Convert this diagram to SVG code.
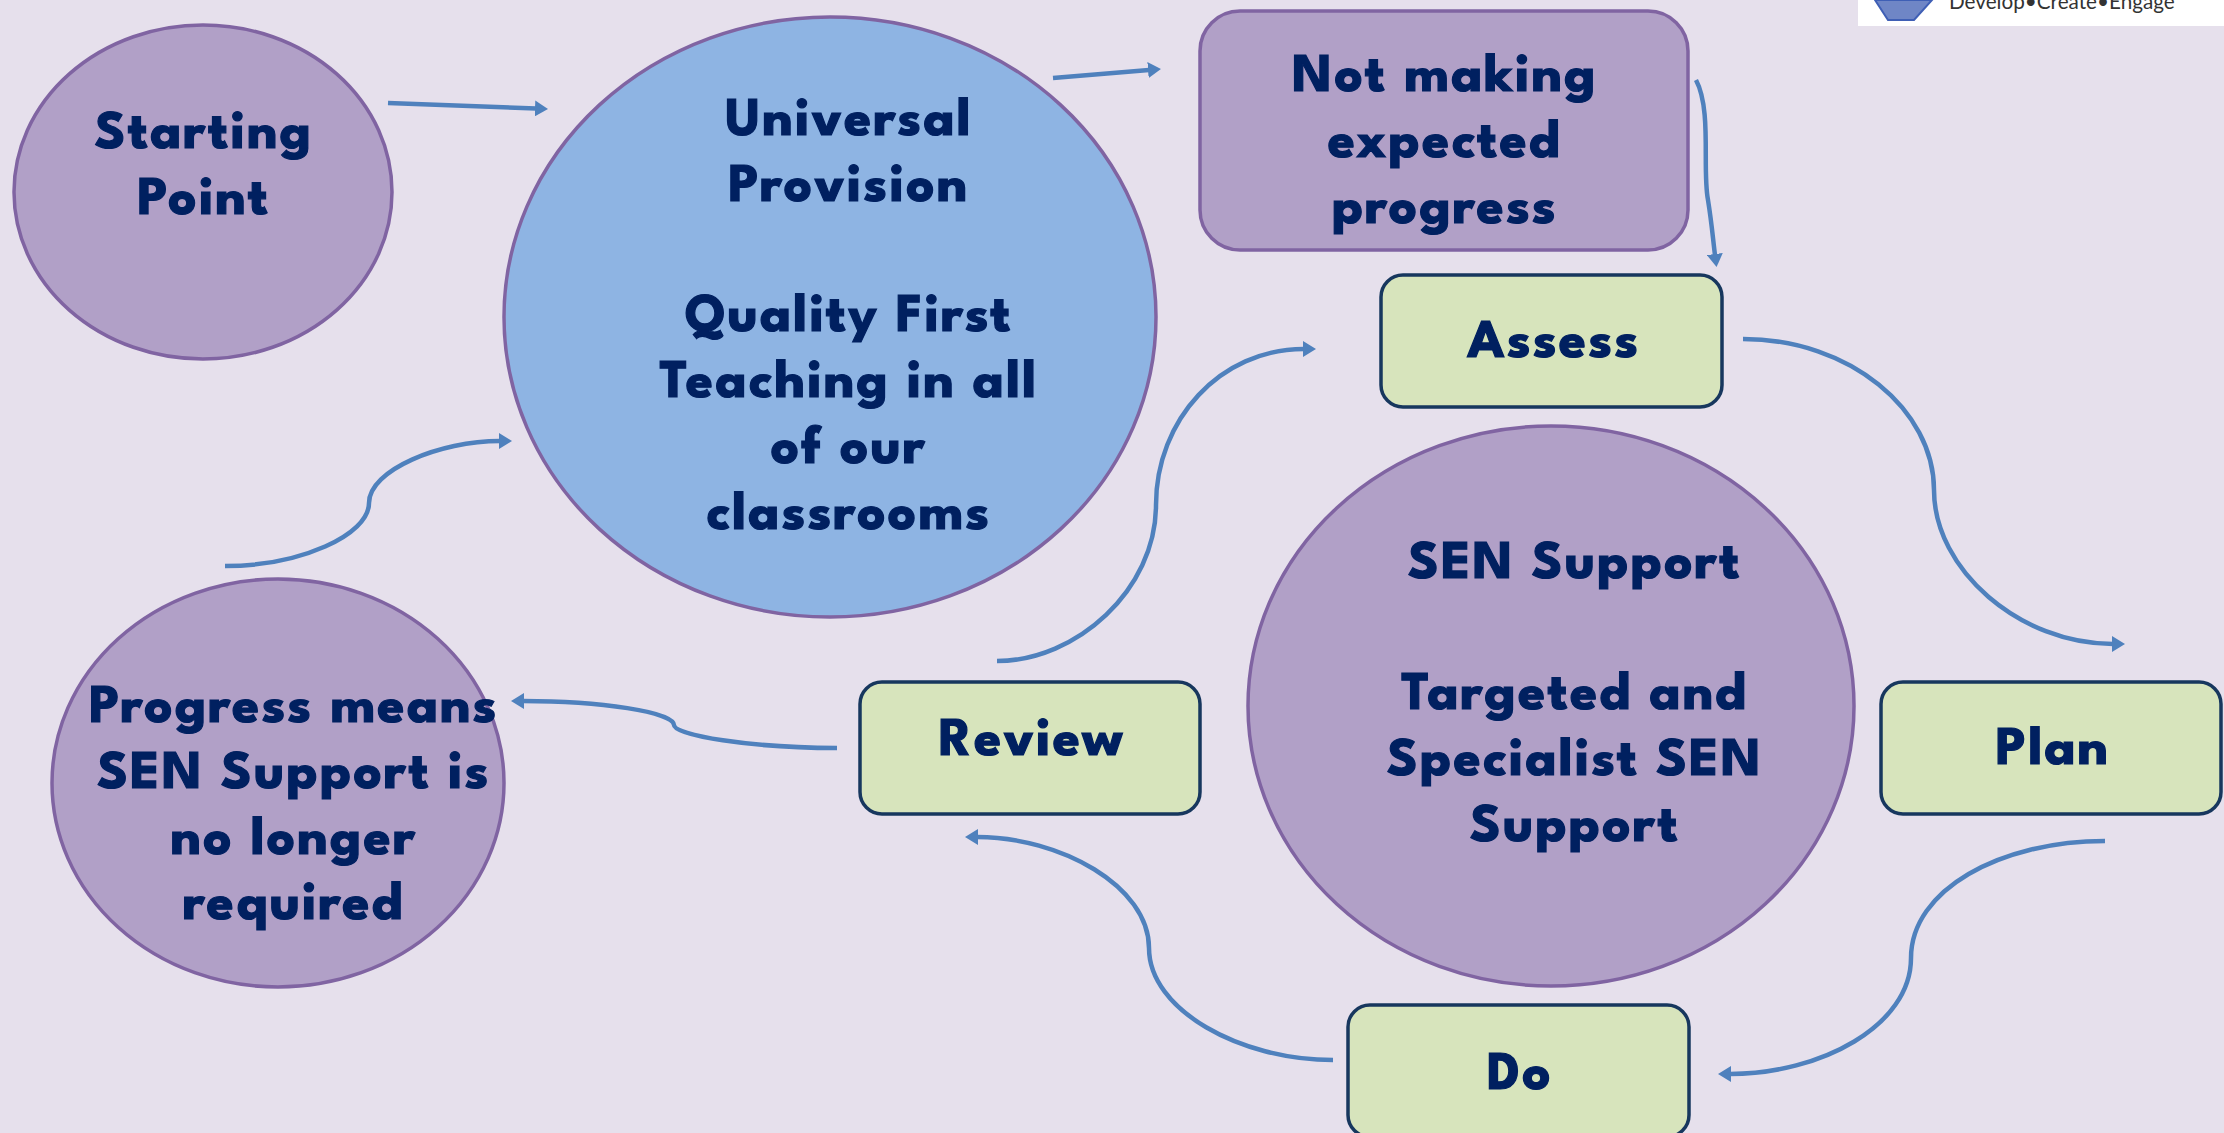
<svg xmlns="http://www.w3.org/2000/svg" width="2224" height="1133" viewBox="0 0 2224 1133">
<style>
.p{fill:#B1A0C7;stroke:#8064A2;stroke-width:3.500}
.b{fill:#8EB4E3;stroke:#8064A2;stroke-width:3.500}
.g{fill:#D7E4BC;stroke:#17375E;stroke-width:3.500}
.t{font-family:"League Spartan","Lato","Liberation Sans",sans-serif;font-weight:700;font-size:55px;letter-spacing:2.3px;fill:#002060;stroke:#002060;stroke-width:1.200;text-anchor:middle}
.c{fill:none;stroke:#4F81BD;stroke-width:4.500}
</style>
<defs><marker id="a" markerUnits="userSpaceOnUse" markerWidth="13" markerHeight="16" refX="1" refY="8" orient="auto"><path d="M0 0L13 8L0 16Z" fill="#4F81BD"/></marker></defs>
<rect width="2224" height="1133" fill="#E6E0EC"/>
<g id="logo"><rect x="1858" y="0" width="366" height="26" fill="#fff"/><path d="M1875 0L1888 20H1914L1932 0Z" fill="#6F86C6" stroke="#3F5FB5" stroke-width="2"/><text x="1949" y="9" font-family="Lato,'Liberation Sans',sans-serif" font-size="20.700" fill="#333">Develop•Create•Engage</text></g>
<g id="connectors">
<path class="c" marker-end="url(#a)" d="M388 103L536 108.500"/>
<path class="c" marker-end="url(#a)" d="M1053 78L1149 70"/>
<path class="c" marker-end="url(#a)" d="M1696 80C1712 110 1702 170 1708 200C1712 225 1713 240 1715 255"/>
<path class="c" marker-end="url(#a)" d="M1743 339C1850 339 1934 410 1934 490C1934 570 2020 644 2113 644"/>
<path class="c" marker-end="url(#a)" d="M2105 841C2000 841 1911 890 1911 958C1911 1026 1820 1074 1730 1074"/>
<path class="c" marker-end="url(#a)" d="M1333 1060C1240 1060 1149 1010 1149 948C1149 886 1060 837 977 837"/>
<path class="c" marker-end="url(#a)" d="M997 661C1076 661 1156 590 1156 505C1156 420 1220 349 1304 349"/>
<path class="c" marker-end="url(#a)" d="M837 748C750 748 674 735 674 725C674 712 600 701 523 701"/>
<path class="c" marker-end="url(#a)" d="M225 566C300 566 369 535 369 503C369 470 440 441 500 441"/>
</g>
<g id="starting"><ellipse class="p" cx="203" cy="192" rx="189" ry="167"/><text class="t"><tspan x="204" y="148">Starting</tspan><tspan x="204" y="214">Point</tspan></text></g>
<g id="universal"><ellipse class="b" cx="830" cy="317" rx="326" ry="300"/><text class="t"><tspan x="849" y="135">Universal</tspan><tspan x="849" y="201">Provision</tspan><tspan x="849" y="331">Quality First</tspan><tspan x="849" y="397">Teaching in all</tspan><tspan x="849" y="463">of our</tspan><tspan x="849" y="529">classrooms</tspan></text></g>
<g id="notmaking"><rect class="p" x="1200" y="11" width="488" height="239" rx="40"/><text class="t"><tspan x="1445" y="91">Not making</tspan><tspan x="1445" y="157">expected</tspan><tspan x="1445" y="223">progress</tspan></text></g>
<g id="assess"><rect class="g" x="1381" y="275" width="341" height="132" rx="22"/><text class="t" x="1554" y="357">Assess</text></g>
<g id="sen"><ellipse class="p" cx="1551" cy="706" rx="303" ry="280"/><text class="t"><tspan x="1575" y="578">SEN Support</tspan><tspan x="1575" y="709">Targeted and</tspan><tspan x="1575" y="775">Specialist SEN</tspan><tspan x="1575" y="841">Support</tspan></text></g>
<g id="plan"><rect class="g" x="1881" y="682" width="340" height="132" rx="22"/><text class="t" x="2053" y="764">Plan</text></g>
<g id="do"><rect class="g" x="1348" y="1005" width="341" height="132" rx="22"/><text class="t" x="1520" y="1089">Do</text></g>
<g id="review"><rect class="g" x="860" y="682" width="340" height="132" rx="22"/><text class="t" x="1032" y="755">Review</text></g>
<g id="progress"><ellipse class="p" cx="278" cy="783" rx="226" ry="204"/><text class="t"><tspan x="294" y="722">Progress means</tspan><tspan x="294" y="788">SEN Support is</tspan><tspan x="294" y="854">no longer</tspan><tspan x="294" y="919">required</tspan></text></g>
</svg>
